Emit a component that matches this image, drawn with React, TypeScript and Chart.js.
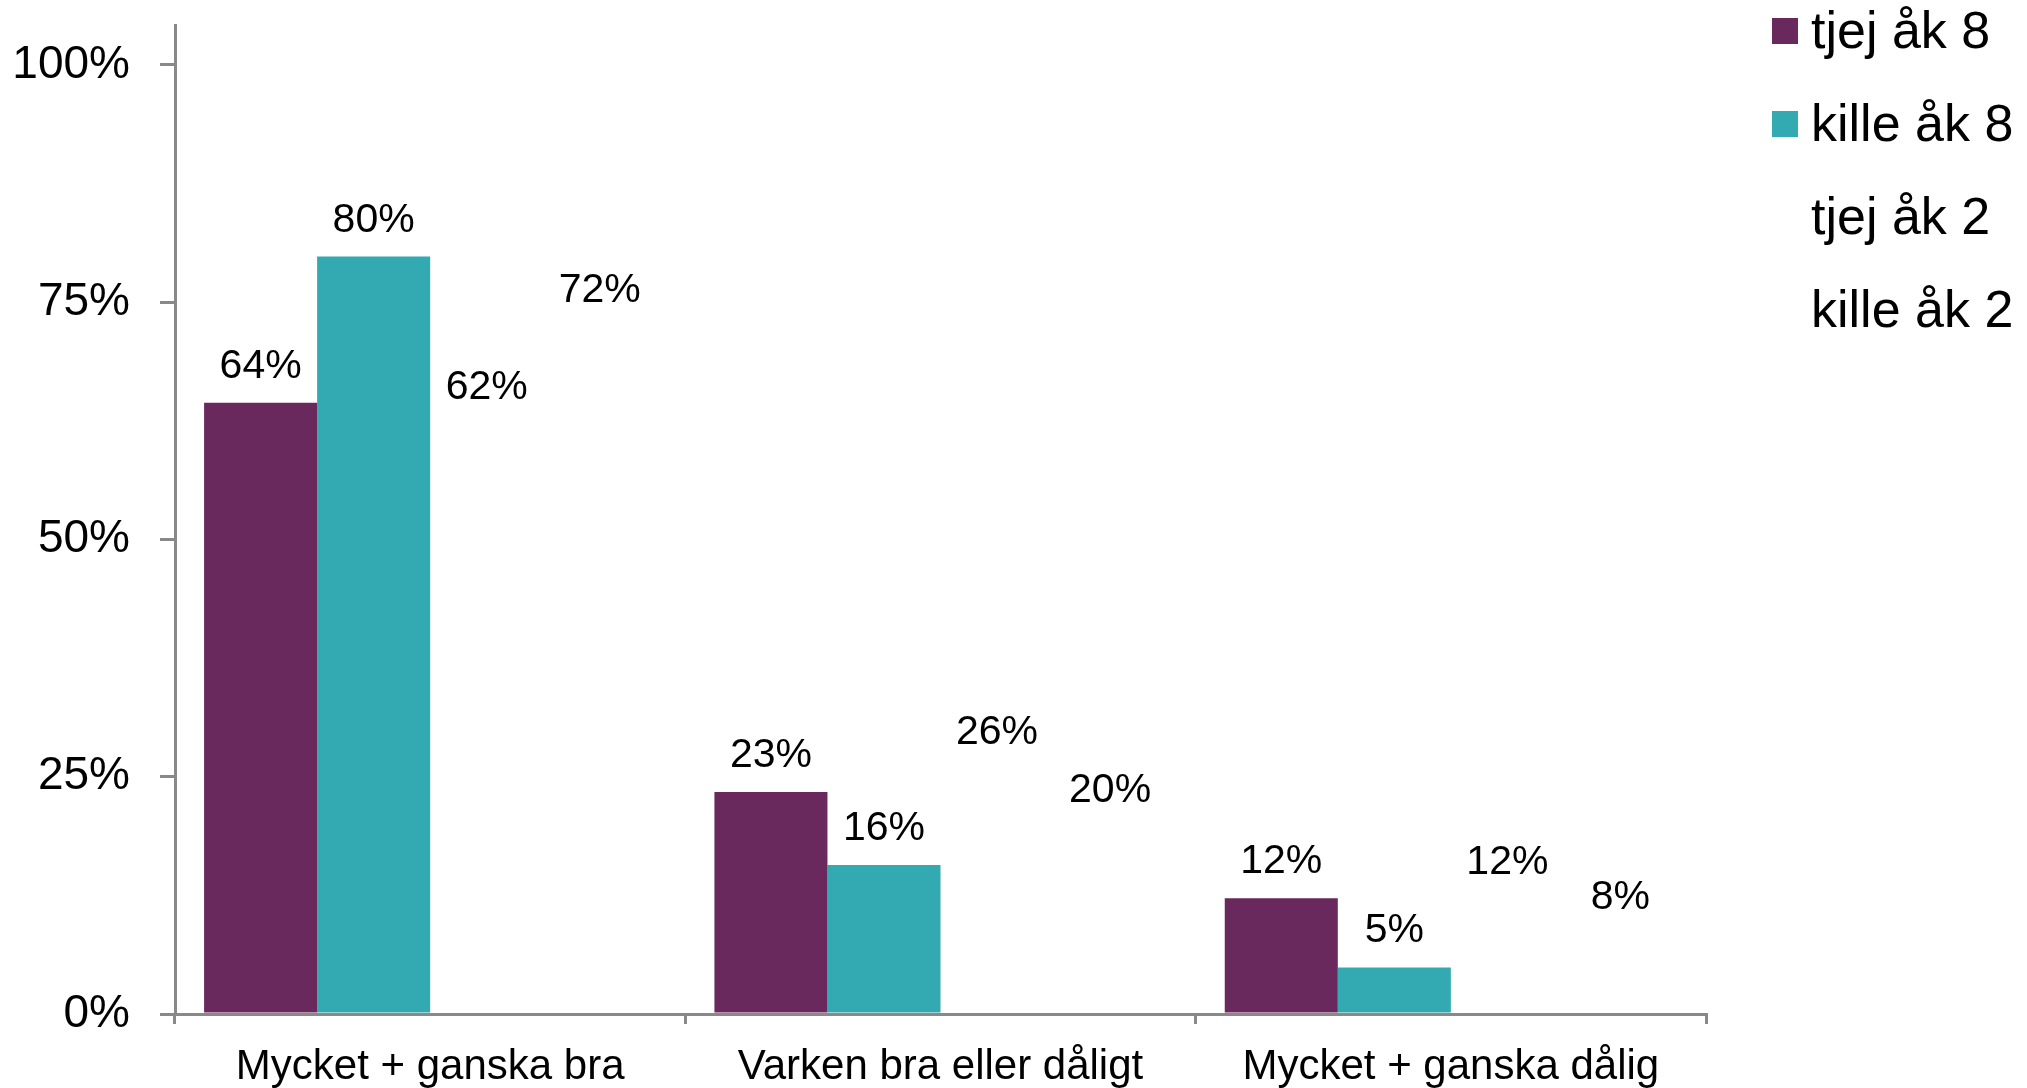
import React, { useEffect, useRef } from "react";
import { Chart, registerables } from "chart.js";

Chart.register(...registerables);

// ---- data ----
const categories = ["Mycket + ganska bra", "Varken bra eller dåligt", "Mycket + ganska dålig"];
const seriesNames = ["tjej åk 8", "kille åk 8", "tjej åk 2", "kille åk 2"];
const tjejAk8 = [64.4, 23.4, 12.2];
const killeAk8 = [79.8, 15.7, 4.9];
const tjejAk2 = [62.2, 25.8, 12.1];
const killeAk2 = [72.4, 19.7, 8.4];
const yTickValues = [0, 25, 50, 75, 100];

// ---- styles ----
const seriesColors = ["#6A295C", "#33A9B1", "rgba(255,255,255,0)", "rgba(255,255,255,0)"];
const axisColor = "#898989";
const fontFamily = "'Liberation Sans', Arial, sans-serif";

const dataLabelPlugin = {
  id: "dataLabels",
  afterDatasetsDraw(chart: any) {
    const ctx = chart.ctx;
    ctx.save();
    ctx.font = `41px ${fontFamily}`;
    ctx.fillStyle = "#000";
    ctx.textAlign = "center";
    ctx.textBaseline = "alphabetic";
    chart.data.datasets.forEach((ds: any, i: number) => {
      const meta = chart.getDatasetMeta(i);
      meta.data.forEach((el: any, j: number) => {
        const v = ds.data[j];
        ctx.fillText(`${Math.round(v)}%`, el.x, el.y - 25);
      });
    });
    ctx.restore();
  },
};

const legendPlugin = {
  id: "sideLegend",
  afterDraw(chart: any) {
    const ctx = chart.ctx;
    const boxX = 1772;
    const textX = 1811;
    const firstBaseline = 48;
    const rowGap = 93;
    const box = 26;
    ctx.save();
    ctx.font = `52px ${fontFamily}`;
    ctx.textAlign = "left";
    ctx.textBaseline = "alphabetic";
    chart.data.datasets.forEach((ds: any, i: number) => {
      const baseline = firstBaseline + i * rowGap;
      ctx.fillStyle = ds.backgroundColor;
      ctx.fillRect(boxX, baseline - 30, box, box);
      ctx.fillStyle = "#000";
      ctx.fillText(ds.label, textX, baseline);
    });
    ctx.restore();
  },
};

export default function App() {
  const canvasRef = useRef<HTMLCanvasElement | null>(null);

  useEffect(() => {
    if (!canvasRef.current) return;
    Chart.defaults.font.family = fontFamily;
    const seriesData = [tjejAk8, killeAk8, tjejAk2, killeAk2];
    const chart = new Chart(canvasRef.current, {
      type: "bar",
      data: {
        labels: categories,
        datasets: seriesNames.map((name, i) => ({
          label: name,
          data: seriesData[i],
          backgroundColor: seriesColors[i],
          borderWidth: 0,
          categoryPercentage: 0.886,
          barPercentage: 1,
        })),
      },
      options: {
        responsive: false,
        animation: false,
        devicePixelRatio: 1,
        layout: { padding: { left: 0, right: 321, top: 25, bottom: 0 } },
        plugins: {
          legend: { display: false },
          tooltip: { enabled: false },
          title: { display: false },
        },
        scales: {
          x: {
            grid: {
              offset: true,
              drawOnChartArea: false,
              drawTicks: true,
              tickLength: 10,
              color: axisColor,
              lineWidth: 3,
            },
            border: { color: axisColor, width: 3 },
            ticks: {
              color: "#000",
              font: { size: 42, family: fontFamily },
              padding: 18,
              maxRotation: 0,
              autoSkip: false,
            },
            afterFit: (s: any) => {
              s.height = 74;
              s.paddingLeft = 0;
              s.paddingRight = 0;
            },
          },
          y: {
            min: 0,
            max: 104.2,
            grid: {
              drawOnChartArea: false,
              drawTicks: true,
              tickLength: 15,
              color: axisColor,
              lineWidth: 3,
            },
            border: { color: axisColor, width: 3 },
            ticks: {
              color: "#000",
              font: { size: 46, family: fontFamily },
              padding: 30,
              callback: (v: any) => `${v}%`,
            },
            afterBuildTicks: (s: any) => {
              s.ticks = yTickValues.map((v) => ({ value: v }));
            },
            afterFit: (s: any) => {
              s.width = 175;
              s.paddingTop = 0;
              s.paddingBottom = 0;
            },
          },
        },
      },
      plugins: [dataLabelPlugin, legendPlugin],
    });
    return () => chart.destroy();
  }, []);

  return (
    <div style={{ position: "absolute", left: 0, top: 0, width: 2027, height: 1088, background: "#fff" }}>
      <canvas ref={canvasRef} width={2027} height={1088} style={{ width: 2027, height: 1088, display: "block" }} />
    </div>
  );
}
